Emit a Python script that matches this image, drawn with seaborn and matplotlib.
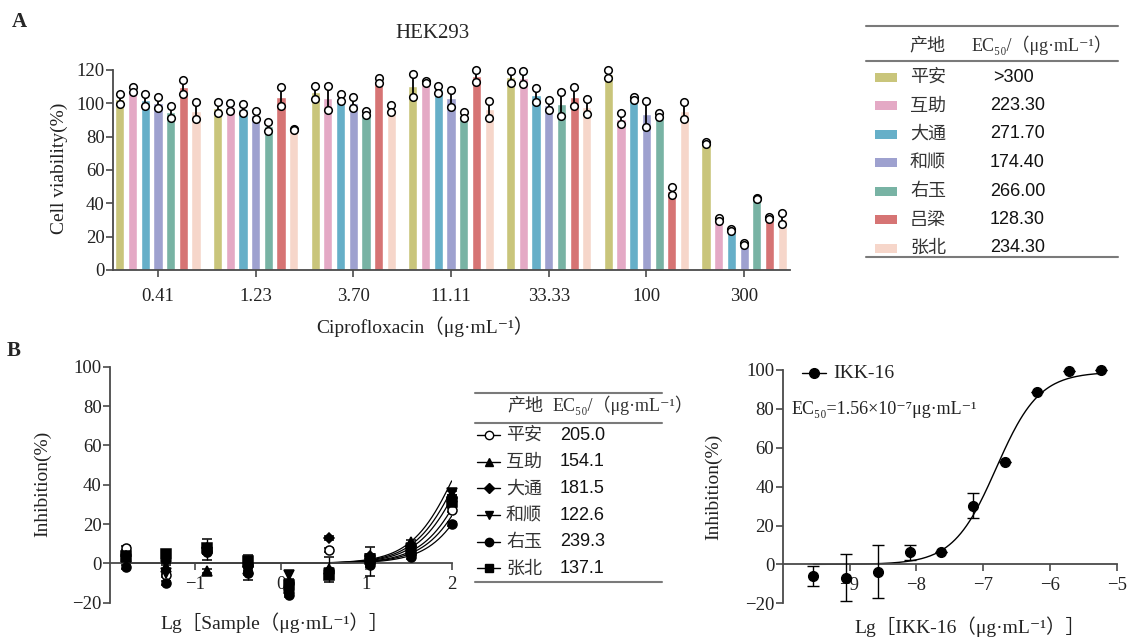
import numpy as np
import pandas as pd
import matplotlib
matplotlib.use("Agg")
import matplotlib.pyplot as plt
from matplotlib.patches import Rectangle
import seaborn as sns

# ---------------- data ----------------
# A: HEK293 cell viability, two replicates per bar
conc_labels = ['0.41', '1.23', '3.70', '11.11', '33.33', '100', '300']
sites = ['平安', '互助', '大通', '和顺', '右玉', '吕梁', '张北']
site_colors = ['#c9c57b', '#e4a9c5', '#66afc8', '#9ea1cf', '#78b3a4', '#d67474', '#f6d6ca']
ec50_a = ['>300', '223.30', '271.70', '174.40', '266.00', '128.30', '234.30']

rep_hi = {
    '平安': [105.4, 100.6, 110.6, 117.6, 119.4, 120.0, 76.8],
    '互助': [109.6, 100.0, 110.4, 113.6, 119.4, 94.0, 31.4],
    '大通': [105.4, 99.6, 105.6, 110.4, 109.0, 103.6, 24.8],
    '和顺': [103.6, 95.4, 103.6, 108.0, 102.0, 101.4, 16.4],
    '右玉': [98.4, 89.0, 95.4, 94.6, 107.0, 94.0, 43.0],
    '吕梁': [114.0, 109.6, 115.0, 120.0, 109.6, 50.0, 32.0],
    '张北': [100.8, 84.6, 99.0, 101.6, 102.8, 100.6, 34.0],
}
rep_lo = {
    '平安': [99.4, 94.4, 102.6, 103.6, 112.4, 115.0, 75.8],
    '互助': [107.0, 95.6, 96.0, 112.4, 111.6, 87.4, 29.4],
    '大通': [98.6, 94.0, 101.4, 106.4, 101.0, 102.0, 23.6],
    '和顺': [97.0, 90.4, 97.0, 98.0, 96.0, 86.0, 15.0],
    '右玉': [91.0, 83.4, 93.0, 91.4, 92.4, 92.0, 42.6],
    '吕梁': [105.6, 98.6, 112.4, 113.0, 98.6, 45.0, 30.6],
    '张北': [90.4, 84.2, 94.6, 91.4, 93.4, 90.8, 27.4],
}

# B left: inhibition by samples
sample_conc = [0.0152, 0.0457, 0.137, 0.41, 1.23, 3.70, 11.11, 33.33, 100]
b_sites = ['平安', '互助', '大通', '和顺', '右玉', '张北']
b_markers = ['o', '^', 'D', 'v', 'o', 's']
b_ec50 = [205.0, 154.1, 181.5, 122.6, 239.3, 137.1]
inhib = {
    '平安': [8, -6, 7, -1, -10, 7, 1, 5, 27],
    '互助': [3, -2, -4, -3, -12, -3, 3, 11, 34],
    '大通': [4, 1, 8, -2, -15, 13, 4, 9, 33],
    '和顺': [2, -5, 6, -4, -6, -5, 0, 8, 36],
    '右玉': [-2, -10, 6, -5, -16, -4, -1, 3, 20],
    '张北': [4, 5, 8, 1, -11, -6, 2, 7, 31],
}
inhib_sd = {
    '平安': [1, 1, 5.5, 1, 1, 1, 7.3, 1, 1],
    '互助': [1, 1, 1, 1, 1, 6.3, 1, 1, 1],
    '大通': [1, 1, 1, 6.5, 1, 1, 1, 1, 1],
    '和顺': [1, 1, 1, 1, 2, 1, 1, 1, 1],
    '右玉': [1, 1, 1, 1, 1, 1, 1, 1, 1],
    '张北': [1, 1, 1, 1, 1, 1, 1, 1, 1],
}
sample_hill = 1.6

# B right: IKK-16 positive control
lg_ikk = [-9.54, -9.06, -8.58, -8.10, -7.63, -7.15, -6.67, -6.20, -5.72, -5.24]
ikk_inhib = [-6.0, -6.8, -3.7, 6.2, 6.2, 30.2, 52.8, 88.8, 99.4, 100.0]
ikk_sd = [5.2, 12.2, 13.7, 3.8, 0, 6.3, 0, 0, 0, 0]
ikk_ec50 = 1.56e-7
ikk_hill = 1.35
ikk_top = 99

# ---------------- style ----------------
sns.set_theme(style="ticks")
serif_fam = ['Liberation Serif', 'DejaVu Serif', 'Noto Sans CJK SC']
cjk_fam = ['Noto Sans CJK SC', 'DejaVu Sans']
sans_fam = ['Liberation Sans', 'DejaVu Sans', 'Noto Sans CJK SC']
plt.rcParams['font.family'] = serif_fam
plt.rcParams['axes.unicode_minus'] = True
spine_c = '#4a4a4a'

W, H = 1130, 640
fig = plt.figure(figsize=(W / 100, H / 100), dpi=100)


def box(l, t, r, b):
    return [l / W, (H - b) / H, (r - l) / W, (b - t) / H]


def style_ax(ax):
    sns.despine(ax=ax)
    for s in ['left', 'bottom']:
        ax.spines[s].set_color(spine_c)
        ax.spines[s].set_linewidth(1.3)
    ax.tick_params(direction='out', length=5, width=1.2, color=spine_c,
                   labelsize=13.5, labelcolor='#222', pad=2)


def unclip(eb):
    for a in [eb[0], *eb[1], *eb[2]]:
        a.set_clip_on(False)


# ---------------- panel A ----------------
rows = []
for s in sites:
    for i, c in enumerate(conc_labels):
        rows.append((c, s, rep_hi[s][i]))
        rows.append((c, s, rep_lo[s][i]))
dfA = pd.DataFrame(rows, columns=['conc', 'site', 'viability'])

axA = fig.add_axes(box(113, 70, 790, 270))
sns.barplot(data=dfA, x='conc', y='viability', hue='site', order=conc_labels,
            hue_order=sites, palette=site_colors, saturation=1, width=0.91, gap=0.28,
            errorbar=('pi', 100), capsize=0, err_kws={'color': 'black', 'linewidth': 1.3},
            legend=False, ax=axA)
for ln in axA.lines:
    ln.set_clip_on(False)

# replicate points at bar centres
centres = {}
for p in axA.patches:
    xc = p.get_x() + p.get_width() / 2
    centres.setdefault(int(round(xc)), []).append(xc)
xs, ys = [], []
for i, c in enumerate(conc_labels):
    cx = sorted(centres[i])
    for j, s in enumerate(sites):
        xs += [cx[j], cx[j]]
        ys += [rep_hi[s][i], rep_lo[s][i]]
axA.scatter(xs, ys, s=30, facecolor='white', edgecolor='black', linewidth=1.1,
            zorder=5, clip_on=False)

axA.set_xlim(-0.46, 6.47)
axA.set_ylim(0, 120)
axA.set_yticks(range(0, 121, 20))
axA.set_xlabel('')
axA.set_ylabel('')
style_ax(axA)
axA.tick_params(axis='x', length=5, pad=8)
axA.tick_params(axis='y', pad=1)

# ---------------- panel B left ----------------
axB = fig.add_axes(box(110, 366.7, 451.7, 602.7))
lg_sample = np.log10(sample_conc)
xfit = np.linspace(lg_sample[0], lg_sample[-1], 200)
fit_rows = []
for s, ec in zip(b_sites, b_ec50):
    yfit = 100 / (1 + 10 ** ((np.log10(ec) - xfit) * sample_hill))
    fit_rows += [(x, y, s) for x, y in zip(xfit, yfit)]
dfFit = pd.DataFrame(fit_rows, columns=['lg', 'inhib', 'site'])
sns.lineplot(data=dfFit, x='lg', y='inhib', hue='site', palette={s: 'black' for s in b_sites},
             linewidth=0.9, legend=False, ax=axB, zorder=2)
for s, m in zip(b_sites, b_markers):
    eb = axB.errorbar(lg_sample, inhib[s], yerr=inhib_sd[s], fmt=m, color='black',
                      mfc='white' if s == '平安' else 'black', mec='black', mew=1.1,
                      ms=6.5 if m != 'D' else 5.5, capsize=3.5, elinewidth=1, capthick=1,
                      zorder=3)
    unclip(eb)
axB.set_xlim(-2, 2)
axB.set_ylim(-20, 100)
axB.set_yticks(range(-20, 101, 20))
axB.set_xticks([-1, 0, 1, 2])
axB.set_xlabel('')
axB.set_ylabel('')
style_ax(axB)
axB.spines['bottom'].set_position(('data', 0))
axB.tick_params(axis='x', pad=4)
axB.tick_params(axis='y', pad=1)

# ---------------- panel B right ----------------
axC = fig.add_axes(box(782.7, 370, 1117, 603.3))
xfit2 = np.linspace(lg_ikk[0], lg_ikk[-1], 200)
yfit2 = ikk_top / (1 + 10 ** ((np.log10(ikk_ec50) - xfit2) * ikk_hill))
sns.lineplot(x=xfit2, y=yfit2, color='black', linewidth=1.0, ax=axC, zorder=2)
eb = axC.errorbar(lg_ikk, ikk_inhib, yerr=ikk_sd, fmt='o', color='black', ms=7,
                  capsize=4.5, elinewidth=1, capthick=1, zorder=3)
unclip(eb)
axC.set_xlim(-10, -5)
axC.set_ylim(-20, 100)
axC.set_yticks(range(-20, 101, 20))
axC.set_xticks([-9, -8, -7, -6, -5])
style_ax(axC)
axC.spines['bottom'].set_position(('data', 0))
axC.tick_params(axis='x', pad=4)
axC.tick_params(axis='y', pad=1)

# ---------------- overlay: labels and tables (pixel coords) ----------------
ov = fig.add_axes([0, 0, 1, 1])
ov.set_xlim(0, W)
ov.set_ylim(H, 0)
ov.axis('off')

ov.text(19, 22, 'A', fontsize=15, fontweight='bold', ha='center', va='center', family=serif_fam)
ov.text(14, 351, 'B', fontsize=15, fontweight='bold', ha='center', va='center', family=serif_fam)
ov.text(432, 33, 'HEK293', fontsize=15, ha='center', va='center', family=serif_fam)

lab = dict(fontsize=14, ha='center', va='center', family=serif_fam, color='#222')
ov.text(59, 168, 'Cell viability(%)', rotation=90, **lab)
ov.text(425, 327, 'Ciprofloxacin（μg·mL⁻¹）', **lab)
ov.text(43, 484, 'Inhibition(%)', rotation=90, **lab)
ov.text(275, 623, 'Lg［Sample（μg·mL⁻¹）］', **lab)
ov.text(714, 487, 'Inhibition(%)', rotation=90, **lab)
ov.text(970, 627, 'Lg［IKK-16（μg·mL⁻¹）］', **lab)

# table A
line_c = '#7a7a7a'
for y in [26, 61, 257]:
    ov.plot([866, 1118], [y, y], color=line_c, lw=1.5)
ov.text(927, 45, '产地', fontsize=13, ha='center', va='center', family=cjk_fam, color='#333')
ov.text(972, 45, 'EC₅₀/（μg·mL⁻¹）', fontsize=13, ha='left', va='center', family=serif_fam, color='#333')
rowy = [77, 105.5, 134, 162.5, 191, 219.5, 248]
for s, col, v, y in zip(sites, site_colors, ec50_a, rowy):
    ov.add_patch(Rectangle((875, y - 4.5), 22, 9, color=col, lw=0))
    ov.text(910, y, s, fontsize=13, ha='left', va='center', family=cjk_fam, color='#333')
    ov.text(993 if v.startswith('>') else 990, y, v, fontsize=13, ha='left', va='center',
            family=sans_fam, color='#111')

# table B
for y in [393, 423, 582]:
    ov.plot([475, 662], [y, y], color=line_c, lw=1.5)
ov.text(525, 405, '产地', fontsize=13, ha='center', va='center', family=cjk_fam, color='#333')
ov.text(553, 405, 'EC₅₀/（μg·mL⁻¹）', fontsize=13, ha='left', va='center', family=serif_fam, color='#333')
rowy_b = [435, 461.7, 488.3, 515, 541.7, 568.3]
for s, m, v, y in zip(b_sites, b_markers, b_ec50, rowy_b):
    ov.plot([477, 500], [y, y], color='black', lw=1)
    ov.plot([488.5], [y], marker=m, color='black', mfc='white' if s == '平安' else 'black',
            ms=6 if m != 'D' else 5, mew=1)
    ov.text(506, y, s, fontsize=13, ha='left', va='center', family=cjk_fam, color='#333')
    ov.text(560, y, f'{v:.1f}', fontsize=13, ha='left', va='center', family=sans_fam, color='#111')

# IKK-16 legend and EC50 note
ov.plot([802, 826], [373, 373], color='black', lw=1)
ov.plot([814], [373], marker='o', color='black', ms=7)
ov.text(833, 373, 'IKK-16', fontsize=14, ha='left', va='center', family=serif_fam, color='#222')
ov.text(792, 410, 'EC₅₀=1.56×10⁻⁷μg·mL⁻¹', fontsize=13, ha='left', va='center',
        family=serif_fam, color='#222')

fig.savefig('out.png', dpi=100)
